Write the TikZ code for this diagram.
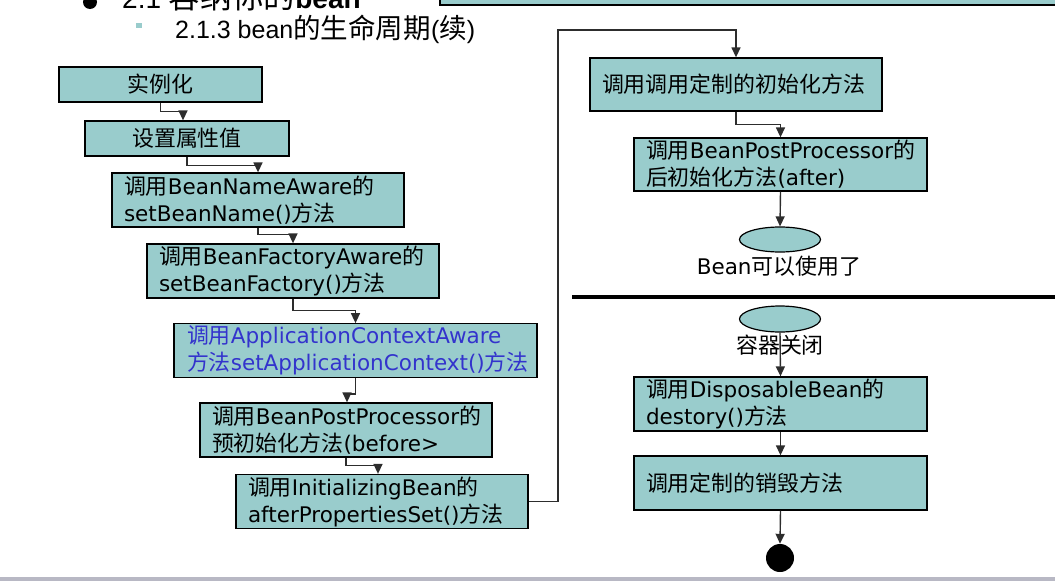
\documentclass[tikz,border=0pt]{standalone}
\usepackage{fontspec}
\setmainfont{DejaVu Sans}
\newfontfamily\cjkf{Noto Sans CJK SC}[Scale=1.02]
\newfontfamily\arialf{Liberation Sans}
\usetikzlibrary{arrows.meta,shapes.geometric}
\newcommand\zh[1]{{\cjkf #1}}
\newcommand\zhs[2]{{\cjkf\fontsize{#1}{#1}\selectfont #2}}
\definecolor{boxfill}{RGB}{153,204,204}
\definecolor{bluetext}{RGB}{51,51,204}
\definecolor{barg}{RGB}{184,184,196}
\definecolor{linec}{RGB}{45,45,45}
\begin{document}
\begin{tikzpicture}[x=1pt,y=-1pt,
  box/.style={draw=black, line width=1.3pt, fill=boxfill, inner xsep=12pt, inner ysep=2pt,
    align=left, font=\fontsize{21.5}{27}\selectfont, anchor=center},
  cbox/.style={box, align=center},
  conn/.style={draw=linec, line width=1.4pt, -{Triangle[length=10pt,width=9pt]}},
  oval/.style={ellipse, draw=black, line width=1.2pt, fill=boxfill, minimum width=81pt,
    minimum height=25pt, inner sep=0pt},
  lbl/.style={font=\fontsize{21.5}{25}\selectfont, inner sep=0pt}
]
\useasboundingbox (0,0) rectangle (1055,581);
\clip (0,0) rectangle (1055,581);

% header
\draw[fill=boxfill, line width=1.3pt] (440,-10) rectangle (1065,5);
\fill (90,2) circle (7pt);
\node[anchor=base west, inner sep=0pt, font=\fontsize{28}{30}\selectfont\arialf] (title) at (122,8)
  {2.1 \zhs{31}{容纳你的}\textbf{bean}};
\fill[boxfill] (136,23) rectangle (142,28);
\node[anchor=base west, inner sep=0pt, font=\fontsize{25}{27}\selectfont\arialf] (sub) at (175,38)
  {2.1.3 bean\zhs{27}{的生命周期}(\zhs{27}{续})};

% left column
\node[cbox, minimum height=35pt, text width=179pt] (n1) at (160.5,84.5) {\zh{实例化}};
\node[cbox, minimum height=35pt, text width=180pt] (n2) at (187,138.5) {\zh{设置属性值}};
\node[box, minimum height=54pt, text width=268pt] (n3) at (258,200)
  {\zh{调用}BeanNameAware\zh{的}\\setBeanName()\zh{方法}};
\node[box, minimum height=54pt, text width=268pt] (n4) at (293,271)
  {\zh{调用}BeanFactoryAware\zh{的}\\setBeanFactory()\zh{方法}};
\node[box, minimum height=53pt, inner xsep=13pt, text width=337pt, text=bluetext] (n5) at (355.5,350.5)
  {\zh{调用}ApplicationContextAware\\\zh{方法}setApplicationContext()\zh{方法}};
\node[box, minimum height=54pt, text width=268pt] (n6) at (346,430)
  {\zh{调用}BeanPostProcessor\zh{的}\\\zh{预初始化方法}(before>};
\node[box, minimum height=53pt, text width=268pt] (n7) at (382,501.5)
  {\zh{调用}InitializingBean\zh{的}\\afterPropertiesSet()\zh{方法}};

% right column
\node[box, minimum height=53pt, text width=268pt] (r1) at (736,84.5)
  {\zh{调用调用定制的初始化方法}};
\node[box, minimum height=53pt, text width=269pt] (r2) at (780.5,164.5)
  {\zh{调用}BeanPostProcessor\zh{的}\\\zh{后初始化方法}(after)};
\node[oval] (e1) at (780,239.5) {};
\node[lbl] (l1) at (779,266) {Bean\zh{可以使用了}};
\draw[line width=4pt] (572,297) -- (1055,297);
\node[oval, minimum height=26pt] (e2) at (780,319) {};
\node[lbl] (l2) at (780,345) {\zh{容器关闭}};
\node[box, minimum height=54pt, text width=269pt] (r3) at (780.5,404)
  {\zh{调用}DisposableBean\zh{的}\\destory()\zh{方法}};
\node[box, minimum height=54pt, text width=269pt] (r4) at (780.5,483)
  {\zh{调用定制的销毁方法}};
\node[circle, fill=black, minimum size=28pt, inner sep=0pt] (end) at (780,558) {};

% connectors
\draw[conn] (n1.south) -- ++(0,9) -| ([xshift=-4pt]n2.north);
\draw[conn] (n2.south) -- ++(0,9) -| (n3.north);
\draw[conn] (n3.south) -- ++(0,7) -| (n4.north);
\draw[conn] (n4.south) -- ++(0,12) -| (n5.north);
\draw[conn] (n5.south) -- ++(0,16) -| ([xshift=1pt]n6.north);
\draw[conn] (n6.south) -- ++(0,8) -| ([xshift=-4pt]n7.north);
\coordinate (c1) at (558,30);
\draw[conn] (n7.east) -| (c1) -| (r1.north);
\draw[conn] (r1.south) -- ++(0,13) -| (r2.north);
\draw[conn] (r2.south) -- (e1.north);
\draw[conn] (e2.south) -- (r3.north);
\draw[conn] (r3.south) -- (r4.north);
\draw[conn] (r4.south) -- (end.north);

% bottom bar
\fill[barg] (0,577) rectangle (1055,581);
\end{tikzpicture}
\end{document}
